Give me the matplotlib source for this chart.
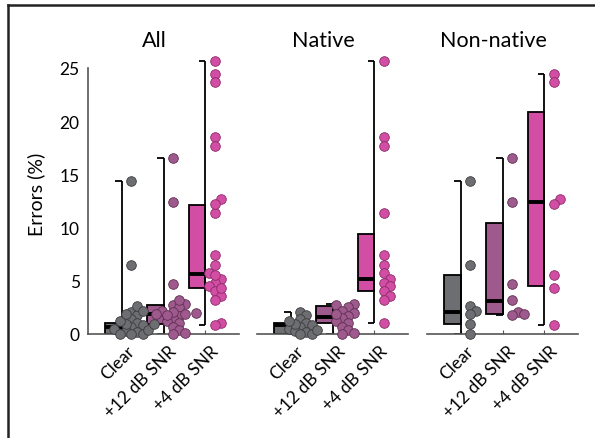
import numpy as np
import matplotlib
matplotlib.use("Agg")
import matplotlib.pyplot as plt
import matplotlib.transforms as mtransforms
from matplotlib.lines import Line2D

plt.rcParams['font.family'] = ['Lato', 'DejaVu Sans']

# condições e painéis
condicoes = ['Clear', '+12 dB SNR', '+4 dB SNR']
paineis = ['All', 'Native', 'Non-native']

# erros (%) por participante
native_clear = [2.1, 1.8, 1.4, 1.0, 0.8, 0.7, 0.5, 0.3, 0.2, 0.0, 0.0, 0.4, 0.9, 1.2]
native_12 = [2.8, 2.7, 2.5, 2.2, 2.0, 1.7, 1.5, 1.2, 1.0, 0.7, 0.4, 0.1, 0.0, 1.9]
native_4 = [25.7, 18.5, 17.7, 11.4, 7.4, 6.5, 5.7, 5.2, 4.8, 4.5, 4.0, 3.6, 3.2, 1.0]
nonnative_clear = [14.4, 6.5, 2.6, 2.2, 1.9, 0.9, 0.0]
nonnative_12 = [16.5, 12.4, 4.7, 3.2, 2.1, 1.8, 1.9]
nonnative_4 = [24.4, 23.7, 12.7, 12.2, 5.5, 4.3, 0.85]

# caixas (q1, mediana, q3)
caixas_all = [(0.0, 0.7, 1.0), (0.95, 1.9, 2.7), (4.3, 5.6, 12.1)]
caixas_native = [(0.0, 0.8, 1.0), (1.0, 1.6, 2.6), (4.0, 5.2, 9.4)]
caixas_nonnative = [(0.9, 2.1, 5.5), (1.9, 3.1, 10.4), (4.5, 12.4, 20.9)]

cores = ['#6d6e71', '#9f5a8d', '#d24ea4']
bordas = ['#3c3c3e', '#5e2f52', '#8c2a68']

dados = [
    [native_clear + nonnative_clear, native_12 + nonnative_12, native_4 + nonnative_4],
    [native_clear, native_12, native_4],
    [nonnative_clear, nonnative_12, nonnative_4],
]
caixas = [caixas_all, caixas_native, caixas_nonnative]

PX_X = 42.0    # pixels por unidade x
PX_Y = 10.64   # pixels por unidade y
DIAM = 9.5     # diametro do marcador em pixels


def enxame(valores):
    # beeswarm simples: desloca horizontalmente, aceitando alguma sobreposicao
    ordem = np.argsort(valores)
    pos = []
    offs = np.zeros(len(valores))
    passo = DIAM * 0.6
    for i in ordem:
        y = valores[i] * PX_Y
        for k in [0, 1, -1, 2, -2, 3, -3, 4, -4]:
            x = k * passo
            if all((x - px) ** 2 + (y - py) ** 2 >= (DIAM * 0.62) ** 2 for px, py in pos):
                break
        pos.append((x, y))
        offs[i] = x / PX_X
    return offs


fig = plt.figure(figsize=(5.95, 4.39), dpi=100)
desloc = mtransforms.ScaledTranslation(10 / 100, 0, fig.dpi_scale_trans)
esquerdas = [88, 257, 427]
for p, titulo in enumerate(paineis):
    ax = fig.add_axes([esquerdas[p] / 595, 104 / 439, 151 / 595, 282 / 439])
    for c in range(3):
        x0 = c + 1
        vals = np.array(dados[p][c])
        q1, med, q3 = caixas[p][c]
        # caixa a esquerda do tick
        ax.bar(x0, q3 - q1, bottom=q1, width=-0.4, align='edge', color=cores[c],
               edgecolor='black', linewidth=1.3, zorder=2)
        ax.hlines(med, x0 - 0.4, x0, color='black', linewidth=2.8, zorder=3)
        # bigode com remates para a esquerda
        ax.vlines(x0, vals.min(), vals.max(), color='black', linewidth=1.3, zorder=2)
        ax.hlines([vals.min(), vals.max()], x0 - 0.15, x0, color='black', linewidth=1.3, zorder=2)
        # pontos individuais
        xs = x0 + 0.23 + enxame(vals)
        ax.scatter(xs, vals, s=48, color=cores[c], edgecolor=bordas[c], linewidth=0.6,
                   zorder=4, clip_on=False)
    ax.set_xlim(0.2, 3.8)
    ax.set_ylim(0, 26.5)
    ax.set_xticks([1, 2, 3])
    ax.tick_params(axis='x', direction='in', length=3, color='#555555', pad=10)
    ax.set_xticklabels(condicoes, rotation=45, ha='right', va='center',
                       rotation_mode='anchor', fontsize=12.5)
    for lbl in ax.get_xticklabels():
        lbl.set_transform(lbl.get_transform() + desloc)
    for s in ['top', 'right']:
        ax.spines[s].set_visible(False)
    ax.spines['bottom'].set_color('#555555')
    ax.spines['bottom'].set_linewidth(1.2)
    if p == 0:
        ax.set_yticks([0, 5, 10, 15, 20, 25])
        ax.tick_params(axis='y', length=0, labelsize=12.5, pad=6)
        ax.spines['left'].set_bounds(0, 25)
        ax.spines['left'].set_color('#555555')
        ax.spines['left'].set_linewidth(1.2)
        ax.set_ylabel('Errors (%)', fontsize=14, labelpad=10)
    else:
        ax.spines['left'].set_visible(False)
        ax.set_yticks([])
    ax.set_title(titulo, fontsize=15.5, x=0.44, pad=4)

# moldura (so esquerda e topo visiveis)
fig.add_artist(Line2D([8 / 595, 8 / 595], [0, 1 - 6 / 439], transform=fig.transFigure,
                      color='#222222', linewidth=1.8))
fig.add_artist(Line2D([8 / 595, 1], [1 - 6 / 439, 1 - 6 / 439], transform=fig.transFigure,
                      color='#222222', linewidth=1.8))

plt.savefig('out.png', dpi=100)
